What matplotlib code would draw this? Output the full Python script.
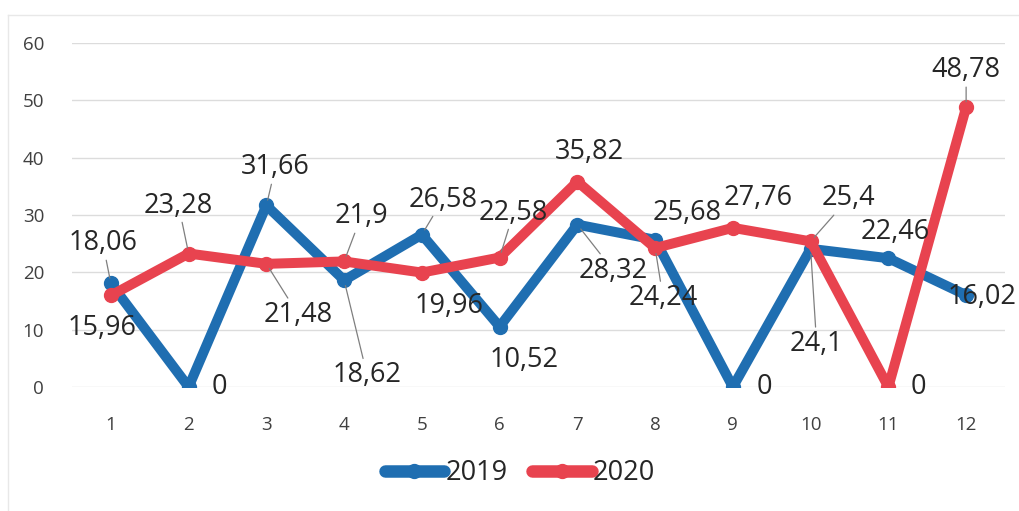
import matplotlib
matplotlib.use("Agg")
import matplotlib.pyplot as plt
from matplotlib.lines import Line2D

plt.rcParams['font.family'] = ['Open Sans', 'DejaVu Sans']

months = list(range(1, 13))
v2019 = [18.06, 0, 31.66, 18.62, 26.58, 10.52, 28.32, 25.68, 0, 24.1, 22.46, 16.02]
v2020 = [15.96, 23.28, 21.48, 21.9, 19.96, 22.58, 35.82, 24.24, 27.76, 25.4, 0, 48.78]
y_ticks = [0, 10, 20, 30, 40, 50, 60]

# label offsets in pixels (dx, dy up positive) and whether a leader line shows
off_2019 = [(-8, 40), (31, 0), (9, 38), (23, -95), (21, 35), (25, -33),
            (36, -46), (32, 27), (32, 0), (6, -95), (7, 26), (16, -2)]
lead_2019 = [1, 0, 1, 1, 1, 0, 1, 0, 0, 1, 0, 0]
off_2020 = [(-9, -33), (-10, 48), (32, -51), (17, 45), (27, -33), (14, 45),
            (12, 30), (8, -50), (25, 30), (38, 43), (30, 0), (0, 37)]
lead_2020 = [0, 1, 1, 1, 0, 1, 0, 1, 0, 1, 0, 1]

blue = '#1F6EB1'
red = '#E8434F'

fig = plt.figure(figsize=(10.19, 5.11), dpi=100)
ax = fig.add_axes([72 / 1019, 1 - 387 / 511, (1005 - 72) / 1019, (387 - 43) / 511])

style = dict(lw=7.2, marker='o', markersize=10, solid_capstyle='round',
             solid_joinstyle='round')
ax.plot(months, v2019, color=blue, zorder=3, **style)
ax.plot(months, v2020, color=red, zorder=4, **style)


def fmt(v):
    return f"{v:g}".replace('.', ',')


def labels(vals, offs, leads):
    for x, v, (dx, dy), ld in zip(months, vals, offs, leads):
        arrow = None
        if ld:
            arrow = dict(arrowstyle='-', color='#7F7F7F', lw=0.9,
                         shrinkA=0, shrinkB=4)
        ax.annotate(fmt(v), (x, v), xytext=(dx, dy), textcoords='offset pixels',
                    ha='center', va='center', fontsize=19.5, color='#262626',
                    arrowprops=arrow, zorder=6, annotation_clip=False)


labels(v2019, off_2019, lead_2019)
labels(v2020, off_2020, lead_2020)

ax.set_xlim(0.5, 12.5)
ax.set_ylim(0, 60)
ax.set_xticks(months)
ax.set_yticks(y_ticks)
ax.grid(axis='y', color='#DCDCDC', lw=1)
ax.set_axisbelow(True)
for s in ax.spines.values():
    s.set_visible(False)
ax.tick_params(length=0, labelsize=13.5, labelcolor='#404040')
ax.tick_params(axis='x', pad=21)
ax.tick_params(axis='y', pad=20)

handles = [Line2D([], [], color=blue, lw=9, marker='o', markersize=10,
                  solid_capstyle='round'),
           Line2D([], [], color=red, lw=9, marker='o', markersize=10,
                  solid_capstyle='round')]
fig.legend(handles, ['2019', '2020'], loc='center', ncol=2,
           bbox_to_anchor=(520 / 1019, 1 - 473 / 511), frameon=False,
           fontsize=19.5, handlelength=2.2, handletextpad=0.05,
           columnspacing=0.9, labelcolor='#262626')

# faint chart frame
fig.add_artist(Line2D([8 / 1019, 8 / 1019], [0, 1 - 15 / 511], color='#E8E8E8', lw=1))
fig.add_artist(Line2D([8 / 1019, 1], [1 - 15 / 511, 1 - 15 / 511], color='#E8E8E8', lw=1))

fig.savefig('out.png', dpi=100)
